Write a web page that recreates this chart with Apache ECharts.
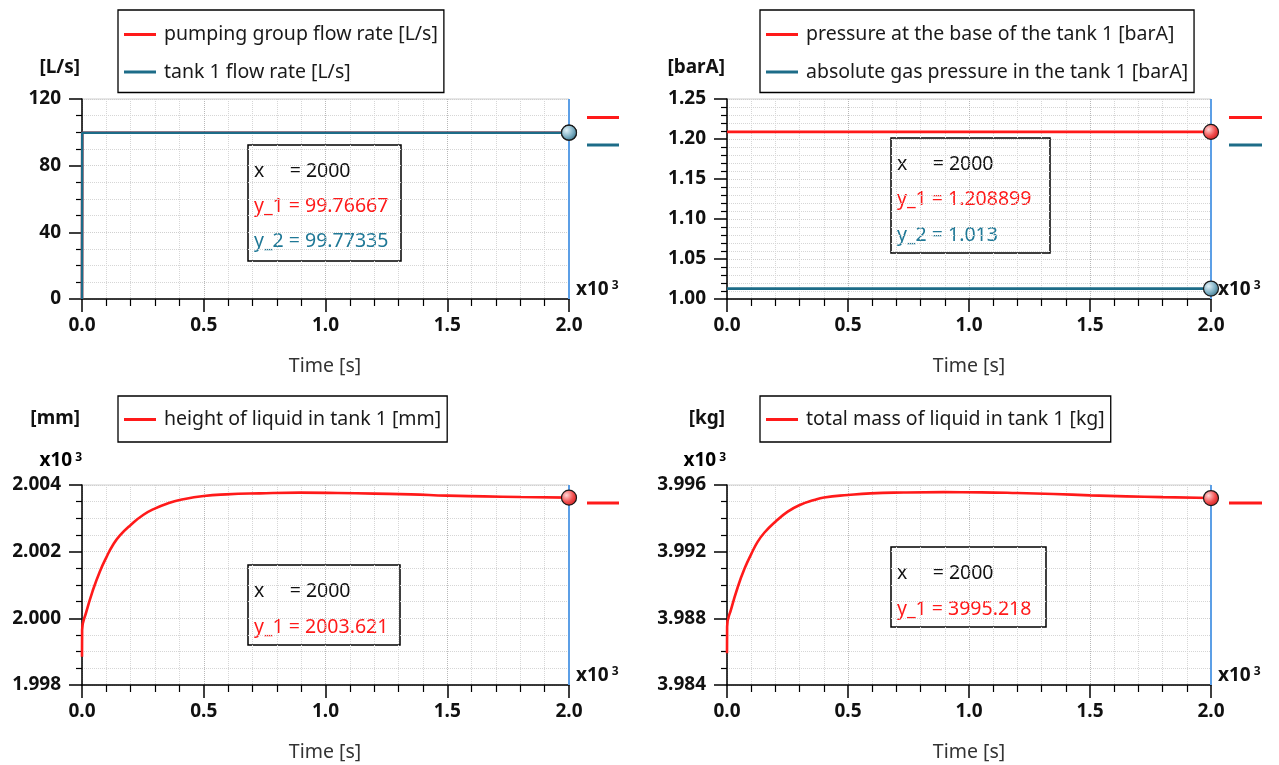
<!DOCTYPE html>
<html>
<head>
<meta charset="utf-8">
<script src="https://cdn.jsdelivr.net/npm/echarts@6/dist/echarts.min.js"></script>
<style>
html,body{margin:0;padding:0;background:#fff;}
#chart{width:1279px;height:765px;}
</style>
</head>
<body>
<div id="chart"></div>
<script>
// ---------------- DATA ----------------
const cursorTime = 2000;

// Top-left: flow rates [L/s]
const flowTime = [0, 1, 2000];
const pumpFlow = [0, 99.77, 99.76667];
const tankFlow = [0, 99.77, 99.77335];

// Top-right: pressures [barA]
const pressTime = [0, 2000];
const basePressure = [1.2089, 1.208899];
const gasPressure = [1.013, 1.013];

// Bottom-left: height of liquid [mm]
const levelTime = [0, 0.5, 18, 45, 73, 100, 127, 155, 200, 251, 301, 360, 401, 500, 593, 730, 895, 1050, 1200, 1350, 1500, 1650, 1800, 2000];
const liquidHeight = [1998.85, 1999.65, 2000.2, 2000.85, 2001.4, 2001.83, 2002.2, 2002.48, 2002.8, 2003.1, 2003.3, 2003.47, 2003.55, 2003.67, 2003.72, 2003.75, 2003.77, 2003.76, 2003.74, 2003.72, 2003.68, 2003.66, 2003.64, 2003.621];

// Bottom-right: total mass of liquid [kg]
const liquidMass = [3985.9, 3987.5, 3988.6, 3989.9, 3991.0, 3991.85, 3992.6, 3993.15, 3993.8, 3994.4, 3994.8, 3995.1, 3995.25, 3995.4, 3995.5, 3995.55, 3995.57, 3995.56, 3995.52, 3995.46, 3995.38, 3995.32, 3995.27, 3995.218];

const xTickLabels = ['0.0', '0.5', '1.0', '1.5', '2.0'];

// ---------------- STYLE ----------------
const FONT = '"Noto Sans", "Open Sans", sans-serif';
const RED = '#ff1a1a';
const TEAL = '#1d6c88';
const CURSOR = '#5c9fe6';
const TXT = 19.5;
const LBL = 19;

const zip = (xs, ys) => xs.map((x, i) => [x, ys[i]]);
const last = a => a[a.length - 1];

const grids = [
  {left: 82, top: 99, width: 487, height: 200},
  {left: 727, top: 99, width: 484, height: 200},
  {left: 82, top: 485, width: 487, height: 200},
  {left: 727, top: 485, width: 484, height: 200}
].map(g => Object.assign(g, {show: true, borderColor: '#cfcfcf', borderWidth: 1, backgroundColor: 'transparent', containLabel: false}));

const supRich = {
  b: {fontFamily: FONT, fontWeight: 'bold', fontSize: LBL, color: '#111'},
  s: {fontFamily: FONT, fontWeight: 'bold', fontSize: 12, color: '#111', verticalAlign: 'top', padding: [0, 0, 6, 3]}
};

function xAxisFor(i) {
  return {
    type: 'value', gridIndex: i, min: 0, max: 2000, interval: 500,
    axisLine: {show: true, onZero: false, lineStyle: {color: '#000', width: 1.5}},
    axisTick: {show: true, length: 13, lineStyle: {color: '#000', width: 1.5}},
    minorTick: {show: true, splitNumber: 5, length: 7, lineStyle: {color: '#000', width: 1.2}},
    splitLine: {show: true, lineStyle: {color: '#b8b8b8', type: 'dotted', width: 1}},
    minorSplitLine: {show: true, lineStyle: {color: '#d6d6d6', type: 'dotted', width: 1}},
    axisLabel: {
      margin: 17, color: '#111', fontFamily: FONT, fontWeight: 'bold', fontSize: LBL,
      formatter: v => xTickLabels[Math.round(v / 500)]
    },
    name: '{b|x10}{s|3}', nameLocation: 'end', nameGap: 7,
    nameTextStyle: {align: 'left', verticalAlign: 'bottom', rich: supRich}
  };
}

function yAxisFor(i, min, max, interval, minorSplit, fmt, name, nameGap) {
  return {
    type: 'value', gridIndex: i, min: min, max: max, interval: interval,
    axisLine: {show: true, onZero: false, lineStyle: {color: '#000', width: 1.5}},
    axisTick: {show: true, length: 13, lineStyle: {color: '#000', width: 1.5}},
    minorTick: {show: true, splitNumber: minorSplit, length: 6, lineStyle: {color: '#000', width: 1.2}},
    splitLine: {show: true, lineStyle: {color: '#d0d0d0', type: 'dotted', width: 1}},
    minorSplitLine: {show: true, lineStyle: {color: '#d6d6d6', type: 'dotted', width: 1}},
    axisLabel: {margin: 21, color: '#111', fontFamily: FONT, fontWeight: 'bold', fontSize: LBL, formatter: fmt},
    name: name, nameLocation: 'end', nameGap: nameGap,
    nameTextStyle: {align: 'right', verticalAlign: 'middle', fontFamily: FONT, fontWeight: 'bold', fontSize: LBL, color: '#111', padding: [0, 2, 0, 0]}
  };
}

function endMarker(color, value) {
  const grad = color === RED
    ? {type: 'radial', x: 0.35, y: 0.35, r: 0.75, colorStops: [{offset: 0, color: '#ffd6d6'}, {offset: 0.55, color: '#f25050'}, {offset: 1, color: '#c81414'}]}
    : {type: 'radial', x: 0.35, y: 0.35, r: 0.75, colorStops: [{offset: 0, color: '#e2f2f8'}, {offset: 0.55, color: '#7fb0c4'}, {offset: 1, color: '#2e6a80'}]};
  return {
    symbol: 'circle', symbolSize: 15, silent: true, animation: false,
    label: {show: false},
    itemStyle: {color: grad, borderColor: '#1a1a1a', borderWidth: 1.2},
    data: [{coord: [cursorTime, value]}]
  };
}

const cursorLine = {
  silent: true, symbol: ['none', 'none'], animation: false,
  label: {show: false},
  lineStyle: {color: CURSOR, width: 2, type: 'solid'},
  data: [{xAxis: cursorTime}]
};

function lineSeries(name, i, data, color, extra) {
  return Object.assign({
    name: name, type: 'line', xAxisIndex: i, yAxisIndex: i,
    data: data, showSymbol: false, symbol: 'none',
    lineStyle: {color: color, width: 2.6}, itemStyle: {color: color},
    clip: false, animation: false
  }, extra || {});
}

const series = [
  lineSeries('pumping group flow rate [L/s]', 0, zip(flowTime, pumpFlow), RED, {markPoint: endMarker(RED, last(pumpFlow)), markLine: cursorLine}),
  lineSeries('tank 1 flow rate [L/s]', 0, zip(flowTime, tankFlow), TEAL, {markPoint: endMarker(TEAL, last(tankFlow))}),
  lineSeries('pressure at the base of the tank 1 [barA]', 1, zip(pressTime, basePressure), RED, {markPoint: endMarker(RED, last(basePressure)), markLine: cursorLine}),
  lineSeries('absolute gas pressure in the tank 1 [barA]', 1, zip(pressTime, gasPressure), TEAL, {markPoint: endMarker(TEAL, last(gasPressure))}),
  lineSeries('height of liquid in tank 1 [mm]', 2, zip(levelTime, liquidHeight), RED, {smooth: 0.5, markPoint: endMarker(RED, last(liquidHeight)), markLine: cursorLine}),
  lineSeries('total mass of liquid in tank 1 [kg]', 3, zip(levelTime, liquidMass), RED, {smooth: 0.5, markPoint: endMarker(RED, last(liquidMass)), markLine: cursorLine})
];

function legendFor(left, top, names, padding) {
  return {
    orient: 'vertical', left: left, top: top, data: names,
    backgroundColor: '#fff', borderColor: '#000', borderWidth: 1.3, borderRadius: 0,
    padding: padding, itemGap: 14.5, itemWidth: 32, itemHeight: 3, icon: 'rect',
    selectedMode: false,
    textStyle: {fontFamily: FONT, fontSize: TXT, color: '#1a1a1a', lineHeight: 23, padding: [0, 0, 0, 3]}
  };
}

const legends = [
  legendFor(118, 10, ['pumping group flow rate [L/s]', 'tank 1 flow rate [L/s]'], [13, 6, 9, 6]),
  legendFor(760, 10, ['pressure at the base of the tank 1 [barA]', 'absolute gas pressure in the tank 1 [barA]'], [13, 6, 9, 6]),
  legendFor(118, 396, ['height of liquid in tank 1 [mm]'], [12, 6, 11, 6]),
  legendFor(760, 396, ['total mass of liquid in tank 1 [kg]'], [12, 6, 11, 6])
];

// --------- annotation graphics (info boxes, tags, axis captions) ---------
const txtFont = TXT + 'px ' + FONT;
function infoBox(x, y, w, h, lines) {
  const children = [{type: 'rect', shape: {x: x, y: y, width: w, height: h}, style: {fill: '#fff', stroke: '#000', lineWidth: 1.5}}];
  lines.forEach(l => children.push({type: 'text', x: x + 6, y: l.y, style: {text: l.text, fill: l.color, font: txtFont, verticalAlign: 'middle', textAlign: 'left'}}));
  return {type: 'group', z: 100, children: children};
}
function tag(x1, x2, y, color) {
  return {type: 'line', z: 100, shape: {x1: x1, y1: y, x2: x2, y2: y}, style: {stroke: color, lineWidth: 3}};
}
function caption(x, y, text) {
  return {type: 'text', z: 100, x: x, y: y, style: {text: text, fill: '#333', font: txtFont, textAlign: 'center', verticalAlign: 'middle'}};
}
function sciLabel(xRight, y) {
  return {type: 'text', z: 100, x: xRight, y: y, style: {
    text: '{b|x10}{s|3}', rich: supRich, textAlign: 'right', verticalAlign: 'middle'}};
}

const graphics = [
  infoBox(248, 145, 153, 116, [
    {y: 171, text: 'x     = ' + cursorTime, color: '#111'},
    {y: 206, text: 'y_1 = ' + last(pumpFlow), color: RED},
    {y: 241, text: 'y_2 = ' + last(tankFlow), color: '#1f7896'}
  ]),
  infoBox(891, 138, 159, 115, [
    {y: 164, text: 'x     = ' + cursorTime, color: '#111'},
    {y: 199, text: 'y_1 = ' + last(basePressure), color: RED},
    {y: 235, text: 'y_2 = ' + last(gasPressure), color: '#1f7896'}
  ]),
  infoBox(248, 565, 152, 80, [
    {y: 591, text: 'x     = ' + cursorTime, color: '#111'},
    {y: 627, text: 'y_1 = ' + last(liquidHeight), color: RED}
  ]),
  infoBox(891, 547, 155, 80, [
    {y: 573, text: 'x     = ' + cursorTime, color: '#111'},
    {y: 609, text: 'y_1 = ' + last(liquidMass), color: RED}
  ]),
  tag(587, 619, 117.5, RED), tag(587, 619, 145, TEAL),
  tag(1229, 1262, 117.5, RED), tag(1229, 1262, 145, TEAL),
  tag(587, 619, 503, RED), tag(1229, 1262, 503, RED),
  caption(325, 366, 'Time [s]'), caption(969, 366, 'Time [s]'),
  caption(325, 752, 'Time [s]'), caption(969, 752, 'Time [s]'),
  sciLabel(82, 461), sciLabel(726, 461)
];

const option = {
  backgroundColor: '#fff',
  animation: false,
  grid: grids,
  legend: legends,
  xAxis: [0, 1, 2, 3].map(xAxisFor),
  yAxis: [
    yAxisFor(0, 0, 120, 40, 4, v => String(v), '[L/s]', 31),
    yAxisFor(1, 1.0, 1.25, 0.05, 5, v => v.toFixed(2), '[barA]', 31),
    yAxisFor(2, 1998, 2004, 2, 4, v => (v / 1000).toFixed(3), '[mm]', 66),
    yAxisFor(3, 3984, 3996, 4, 4, v => (v / 1000).toFixed(3), '[kg]', 66)
  ],
  series: series,
  graphic: graphics
};

const chart = echarts.init(document.getElementById('chart'), null, {renderer: 'canvas'});
chart.setOption(option);
</script>
</body>
</html>
